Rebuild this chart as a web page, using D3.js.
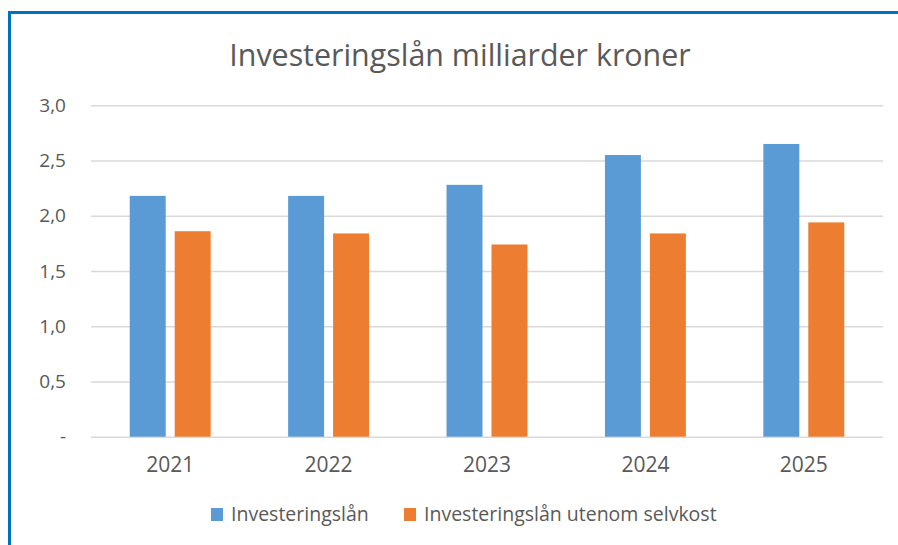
<!DOCTYPE html>
<html>
<head>
<meta charset="utf-8">
<script src="https://cdn.jsdelivr.net/npm/d3@7"></script>
<style>
  body { margin: 0; background: #fff; }
  text { font-family: "Open Sans", sans-serif; fill: #595959; }
</style>
</head>
<body>
<svg id="chart" width="898" height="545"></svg>
<script>
// Data
const years = ['2021', '2022', '2023', '2024', '2025'];
const seriesNames = ['Investeringslån', 'Investeringslån utenom selvkost'];
const investeringslan = [2.18, 2.18, 2.28, 2.55, 2.65];
const utenomSelvkost = [1.86, 1.84, 1.74, 1.84, 1.94];
const yTicks = [0, 0.5, 1.0, 1.5, 2.0, 2.5, 3.0];
const colours = ['#5B9BD5', '#ED7D31'];

const svg = d3.select('#chart');

const plotLeft = 91, plotRight = 883, plotTop = 105.3, plotBottom = 436.7;

const rows = years.map((yr, i) => ({year: yr, values: [investeringslan[i], utenomSelvkost[i]]}));

// Blue frame that is cut off at right and bottom
svg.append('rect')
    .attr('x', 9.5).attr('y', 12.5)
    .attr('width', 1000).attr('height', 1000)
    .attr('fill', 'none')
    .attr('stroke', '#0070C0')
    .attr('stroke-width', 3);

const x0 = d3.scaleBand().domain(years).range([plotLeft, plotRight]).paddingInner(0.489).paddingOuter(0.489 / 2);
const x1 = d3.scaleBand().domain([0, 1]).range([0, x0.bandwidth()]).paddingInner(0.2);
const y = d3.scaleLinear().domain([0, 3]).range([plotBottom, plotTop]);

// gridlines + y labels
const yAxis = d3.axisLeft(y)
    .tickValues(yTicks)
    .tickSize(-(plotRight - plotLeft))
    .tickPadding(25)
    .tickFormat(d => d === 0 ? '-' : d3.format('.1f')(d).replace('.', ','));

const gy = svg.append('g').attr('transform', `translate(${plotLeft},0)`).call(yAxis);
gy.select('.domain').remove();
gy.selectAll('.tick line').attr('stroke', '#D9D9D9').attr('stroke-width', 1.5);
gy.selectAll('.tick text')
    .attr('font-size', 19)
    .attr('font-family', '"Open Sans", sans-serif')
    .attr('fill', '#595959');

// bars
svg.append('g').selectAll('g')
    .data(rows)
    .enter()
    .append('g')
    .attr('transform', d => `translate(${x0(d.year)},0)`)
    .selectAll('rect')
    .data(d => d.values.map((v, k) => ({k, v})))
    .enter()
    .append('rect')
    .attr('x', d => x1(d.k))
    .attr('width', x1.bandwidth())
    .attr('y', d => y(d.v))
    .attr('height', d => y(0) - y(d.v))
    .attr('fill', d => colours[d.k]);

// x labels
const xAxis = d3.axisBottom(x0).tickSize(0).tickPadding(20);
const gx = svg.append('g').attr('transform', `translate(0,${plotBottom})`).call(xAxis);
gx.select('.domain').remove();
gx.selectAll('.tick text')
    .attr('font-size', 21)
    .attr('font-family', '"Open Sans", sans-serif')
    .attr('fill', '#595959');

// title
svg.append('text')
    .attr('x', 460).attr('y', 66)
    .attr('text-anchor', 'middle')
    .attr('font-size', 30.4)
    .text('Investeringslån milliarder kroner');

// legend
const legendX = [211, 404];
const legend = svg.append('g').selectAll('g')
    .data(seriesNames)
    .enter()
    .append('g')
    .attr('transform', (d, i) => `translate(${legendX[i]},508)`);
legend.append('rect')
    .attr('width', 12).attr('height', 13)
    .attr('fill', (d, i) => colours[i]);
legend.append('text')
    .attr('x', 20).attr('y', 13)
    .attr('font-size', 19.5)
    .text(d => d);
</script>
</body>
</html>
